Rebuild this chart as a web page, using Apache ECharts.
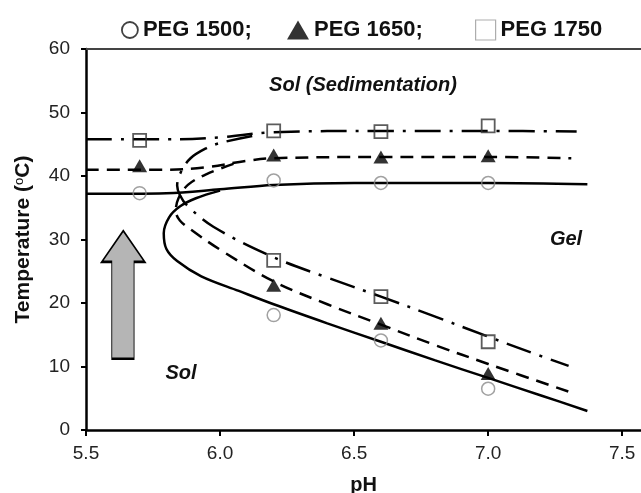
<!DOCTYPE html>
<html>
<head>
<meta charset="utf-8">
<script src="https://cdn.jsdelivr.net/npm/echarts@6/dist/echarts.min.js"></script>
<style>
  html, body { margin: 0; padding: 0; background: #fff; }
  #chart { width: 641px; height: 493px; }
</style>
</head>
<body>
<div id="chart"></div>
<script>
// measured points (pH, temperature)
const phPts = [5.7, 6.2, 6.6, 7.0];
const phLow = [6.2, 6.6, 7.0];
const peg1500Upper = [37.3, 39.3, 38.9, 38.9];
const peg1500Lower = [18.1, 14.1, 6.5];
const peg1650Upper = [41.6, 43.3, 43.0, 43.2];
const peg1650Lower = [22.8, 16.8, 8.9];
const peg1750Upper = [45.6, 47.1, 47.0, 47.9];
const peg1750Lower = [26.7, 21.0, 13.9];

// fitted boundary curves
const line1500Top = [[5.5, 37.2], [5.8, 37.3], [6.0, 37.9], [6.2, 38.6], [6.5, 38.9], [7.0, 38.9], [7.37, 38.7]];
const line1500C = [[6.0, 37.7], [5.91, 36.5], [5.85, 35.2], [5.81, 33.5], [5.79, 31.0], [5.8, 28.5], [5.84, 26.6],
  [5.93, 24.2], [6.07, 21.9], [6.2, 19.8], [6.4, 16.8], [6.6, 13.9], [6.8, 11.0], [7.0, 8.2], [7.2, 5.4], [7.37, 3.0]];
const line1650Top = [[5.5, 41.0], [5.8, 41.0], [5.95, 41.4], [6.1, 42.4], [6.2, 42.8], [6.6, 43.0], [7.0, 43.0], [7.31, 42.8]];
const line1650C = [[6.05, 41.9], [5.95, 40.3], [5.88, 38.6], [5.845, 36.5], [5.835, 34.5], [5.85, 33.0], [5.9, 31.3],
  [6.0, 28.4], [6.2, 23.4], [6.4, 19.8], [6.6, 16.6], [6.8, 13.4], [7.0, 10.4], [7.31, 5.9]];
const line1750Top = [[5.5, 45.8], [5.85, 45.8], [6.0, 46.1], [6.2, 46.9], [6.6, 47.1], [7.0, 47.1], [7.33, 47.0]];
const line1750C = [[6.12, 46.3], [6.0, 45.2], [5.95, 44.4], [5.89, 42.8], [5.855, 40.7], [5.84, 38.5], [5.85, 37.0],
  [5.876, 35.4], [5.975, 32.0], [6.2, 27.2], [6.4, 24.0], [6.6, 21.0], [6.8, 17.9], [7.0, 14.7], [7.2, 11.6], [7.3, 10.1]];

const phTicks = [5.5, 6.0, 6.5, 7.0, 7.5];
const arrowAt = [5.639, 21.3];

const font = 'Liberation Sans, Arial, sans-serif';
const pairs = (xs, ys) => xs.map((x, i) => [x, ys[i]]);

const chart = echarts.init(document.getElementById('chart'));

const curve = (data, type) => ({
  type: 'line',
  data: data,
  smooth: 0.35,
  showSymbol: false,
  silent: true,
  z: 2,
  lineStyle: { color: '#000', width: 2.5, type: type }
});

const dash = [13, 8];
const dashDot = [26, 9, 3, 9];

const series = [
  curve(line1500Top, 'solid'),
  curve(line1500C, 'solid'),
  curve(line1650Top, dash),
  curve(line1650C, dash),
  curve(line1750Top, dashDot),
  curve(line1750C, dashDot),
  {
    // big gray arrow
    type: 'line',
    data: [],
    silent: true,
    markPoint: {
      silent: true,
      symbol: 'path://M21.5,0 L43,31 L32.3,31 L32.3,127.6 L10,127.6 L10,31 L0,31 Z',
      symbolSize: [43, 128],
      itemStyle: { color: '#b5b5b5', borderColor: '#000', borderWidth: 1.5 },
      label: { show: false },
      data: [{ coord: arrowAt }]
    }
  },
  {
    name: 'PEG 1500;',
    type: 'scatter',
    symbol: 'circle',
    symbolSize: 13,
    z: 5,
    itemStyle: { color: 'rgba(255,255,255,0)', borderColor: '#8a8a8a', borderWidth: 1.5 },
    data: pairs(phPts, peg1500Upper).concat(pairs(phLow, peg1500Lower))
  },
  {
    name: 'PEG 1650;',
    type: 'scatter',
    symbol: 'triangle',
    symbolSize: [15, 13],
    z: 5,
    itemStyle: { color: '#000' },
    data: pairs(phPts, peg1650Upper).concat(pairs(phLow, peg1650Lower))
  },
  {
    name: 'PEG 1750',
    type: 'scatter',
    symbol: 'rect',
    symbolSize: 13,
    z: 5,
    itemStyle: { color: 'rgba(255,255,255,0)', borderColor: '#333', borderWidth: 1.8 },
    data: pairs(phPts, peg1750Upper).concat(pairs(phLow, peg1750Lower))
  }
];

const legendText = { fontFamily: font, fontWeight: 'bold', fontSize: 22, color: '#111' };

const option = {
  animation: false,
  backgroundColor: '#fff',
  grid: { left: 86, right: 0, top: 49, bottom: 63, outerBoundsMode: 'none' },
  legend: [
    { data: ['PEG 1500;'], left: 116, top: 14, icon: 'circle', itemWidth: 16, itemHeight: 16,
      itemStyle: { color: '#fff', borderColor: '#111', borderWidth: 1.8 }, textStyle: legendText, selectedMode: false },
    { data: ['PEG 1650;'], left: 282, top: 14, icon: 'triangle', itemWidth: 22, itemHeight: 19,
      itemStyle: { color: '#000' }, textStyle: legendText, selectedMode: false },
    { data: ['PEG 1750'], left: 470, top: 14, icon: 'rect', itemWidth: 20, itemHeight: 20,
      itemStyle: { color: '#fff', borderColor: '#999', borderWidth: 1.2 }, textStyle: legendText, selectedMode: false }
  ],
  xAxis: [
    {
      type: 'value',
      min: 5.5,
      max: 7.57,
      interval: 0.5,
      name: 'pH',
      nameLocation: 'middle',
      nameGap: 45,
      nameTextStyle: { fontFamily: font, fontWeight: 'bold', fontSize: 20, color: '#111' },
      axisLine: { lineStyle: { color: '#000', width: 2.5 } },
      axisTick: { show: true, inside: false, length: 6, customValues: phTicks, lineStyle: { color: '#000', width: 2 } },
      axisLabel: {
        customValues: phTicks,
        margin: 14,
        fontFamily: font,
        fontSize: 19,
        color: '#222',
        formatter: (v) => v.toFixed(1)
      },
      splitLine: { show: false }
    },
    {
      type: 'value',
      position: 'top',
      min: 5.5,
      max: 7.57,
      axisLine: { show: true, onZero: false, lineStyle: { color: '#444', width: 2 } },
      axisTick: { show: false },
      axisLabel: { show: false },
      splitLine: { show: false }
    }
  ],
  yAxis: {
    type: 'value',
    min: 0,
    max: 60,
    interval: 10,
    name: 'Temperature ({s|o}C)',
    nameLocation: 'middle',
    nameGap: 52,
    nameTextStyle: {
      fontFamily: font, fontWeight: 'bold', fontSize: 21, color: '#111',
      rich: { s: { fontFamily: font, fontSize: 13, fontWeight: 'normal', verticalAlign: 'top', color: '#111' } }
    },
    axisLine: { show: true, lineStyle: { color: '#000', width: 2.5 } },
    axisTick: { show: true, inside: false, length: 5, lineStyle: { color: '#000', width: 2 } },
    axisLabel: { margin: 16, fontFamily: font, fontSize: 19, color: '#222' },
    splitLine: { show: false }
  },
  graphic: [
    { type: 'text', x: 363, y: 85, style: { text: 'Sol (Sedimentation)', font: 'italic bold 20px ' + font, fill: '#111', align: 'center', verticalAlign: 'middle' } },
    { type: 'text', x: 566, y: 239, style: { text: 'Gel', font: 'italic bold 20px ' + font, fill: '#111', align: 'center', verticalAlign: 'middle' } },
    { type: 'text', x: 181, y: 373, style: { text: 'Sol', font: 'italic bold 20px ' + font, fill: '#111', align: 'center', verticalAlign: 'middle' } }
  ],
  series: series
};

chart.setOption(option);
</script>
</body>
</html>
